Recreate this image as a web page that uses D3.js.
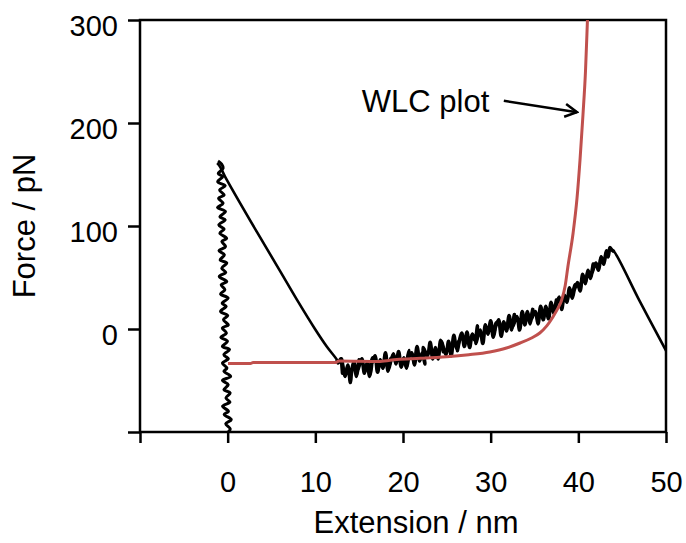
<!DOCTYPE html>
<html>
<head>
<meta charset="utf-8">
<script src="https://cdn.jsdelivr.net/npm/d3@7"></script>
<style>
  body { margin: 0; background: #fff; }
  text { font-family: "Liberation Sans", Arial, Helvetica, sans-serif; fill: #000; }
</style>
</head>
<body>
<div class="vis-fd"></div>
<script>
// tick values
const xTicks = [-10, 0, 10, 20, 30, 40, 50];
const yTicks = [-100, 0, 100, 200, 300];

// approach (contact) trace, nm / pN
const approachX = [0.05, 0.29, -0.22, 0.41, -0.4, 0.09, -0.58, 0.26, -0.2, 0.28,
    -0.43, 0.06, -0.6, 0.34, -0.43, -0.09, -0.6, 0.08, -0.43, 0.21,
    -0.6, -0.02, -0.78, -0.14, -0.61, 0.08, -0.48, 0.01, -0.81, -0.17,
    -0.63, 0.05, -0.81, -0.32, -0.74, -0.1, -0.96, -0.22, -0.68, -0.1,
    -0.86, -0.37, -0.99, -0.25, -0.66, -0.12, -0.89, -0.4, -1.01, -0.28,
    -0.89, -0.25, -1.16, -0.53, -1.04, -0.4, -0.92, -0.28, -1.14, -0.56,
    -1.07, -0.53, -0.69, -1.1];
const approachF = [-100, -97, -92, -88, -83, -80, -75, -71, -67, -62,
    -59, -54, -50, -46, -41, -38, -33, -29, -25, -20,
    -17, -12, -8, -4, 1, 4, 9, 13, 17, 22,
    25, 30, 34, 38, 43, 46, 51, 55, 59, 64,
    67, 72, 76, 80, 85, 88, 93, 97, 101, 106,
    109, 114, 118, 122, 127, 130, 135, 139, 143, 148,
    151, 156, 160, 163];

// retraction trace
const retractX = [-1.2, -0.9, -0.3, 3.35, 6, 8, 9.96, 11.3, 12.47,
    12.6, 12.9, 13.1, 13.0, 13.4, 13.7, 14.0, 14.1, 14.4, 14.7,
    15.0, 14.8, 15.3, 15.6, 15.9, 16.2, 16.5, 16.3, 16.8, 17.1,
    17.4, 17.7, 18.0, 18.3, 18.6, 18.4, 18.9, 19.2, 19.5, 19.8,
    20.1, 20.4, 20.7, 20.5, 21.0, 21.3, 21.6, 21.9, 22.2, 22.5,
    22.3, 22.8, 23.1, 23.4, 23.7, 24.0, 24.3, 24.6, 24.4, 24.9,
    25.2, 25.5, 25.8, 26.1, 26.4, 26.2, 26.7, 27.0, 27.3, 27.6,
    27.9, 28.2, 28.5, 28.3, 28.8, 29.1, 29.4, 29.7, 30.0, 30.3,
    30.6, 30.4, 30.9, 31.2, 31.5, 31.8, 32.1, 32.4, 32.7, 32.5,
    33.0, 33.3, 33.6, 33.9, 34.2, 34.5, 34.8, 34.6, 35.1, 35.4,
    35.7, 36.0, 36.3, 36.6, 36.9, 37.2, 37.5, 37.3, 37.8, 38.1,
    38.4, 38.7, 39.0, 39.3, 39.6, 39.4, 39.9, 40.2, 40.5, 40.8,
    41.1, 41.4, 41.7, 41.5, 42.0, 42.3, 42.6, 42.9, 43.2, 43.4,
    43.6, 43.8,
    44.1, 47.0, 50.0, 50.6];
const retractF = [161, 158, 148, 94, 56, 27, 0, -17, -30,
    -33, -29, -43, -29, -46, -35, -52, -44, -32, -46,
    -30, -41, -29, -43, -33, -46, -28, -37, -26, -42,
    -30, -38, -23, -41, -29, -38, -24, -34, -22, -37,
    -28, -38, -21, -30, -23, -35, -17, -31, -23, -34,
    -18, -26, -13, -29, -18, -29, -11, -22, -12, -25,
    -12, -26, -6, -19, -11, -21, -4, -17, -3, -18,
    -5, -11, 3, -14, -1, -14, 4, -5, 8, -8,
    6, -2, 9, -7, 7, -2, 13, -1, 14, 2,
    12, -1, 17, 4, 17, 5, 19, 9, 17, 5,
    22, 9, 22, 10, 26, 15, 28, 18, 31, 19,
    33, 26, 40, 30, 43, 35, 45, 37, 53, 44,
    57, 49, 63, 53, 64, 57, 70, 63, 76, 70,
    79, 77,
    75, 27, -21, -31];
// noisy stretch of the retraction (index range)
const noiseStart = 8, noiseEnd = 132;

// WLC fit
const wlcX = [0.04, 2.6, 2.9, 12.3, 12.7, 17.4, 19.3, 22, 25, 27.5, 29.9, 31.8, 33.35, 34.6,
    35.6, 36.4, 37.1, 37.6, 38.1, 38.5, 38.8, 39.4, 39.85, 40.19, 40.53, 40.82, 41.04, 41.3];
const wlcF = [-33.5, -33.5, -32.5, -32.5, -31, -31.5, -29.5, -28.5, -27, -25, -22.3, -18.5, -13.6, -9,
    -3.9, 3, 11.7, 19, 28.2, 42, 60, 93, 127, 164, 208, 251, 300, 360];

// annotation (data units)
const labelText = "WLC plot";
const labelPos = [15.3, 211];
const arrowFrom = [31.5, 221.5];
const arrowTo = [39.85, 210.5];

const margin = { top: 20, right: 20, bottom: 111, left: 140 };
const width = 686 - margin.left - margin.right;
const height = 543 - margin.top - margin.bottom;
const red = "#c0504d";

const svg = d3.select(".vis-fd")
    .append("svg")
    .attr("width", width + margin.left + margin.right)
    .attr("height", height + margin.top + margin.bottom)
    .append("g")
    .attr("transform", "translate(" + margin.left + "," + margin.top + ")");

const x = d3.scaleLinear().domain([-10, 50]).range([0, width]);
const y = d3.scaleLinear().domain([-100, 300]).range([height, 0]);

svg.append("defs").append("clipPath")
    .attr("id", "clip")
    .append("rect")
    .attr("width", width)
    .attr("height", height);

svg.append("defs").append("marker")
    .attr("id", "arrow")
    .attr("markerUnits", "userSpaceOnUse")
    .attr("viewBox", "-14 -8 16 16")
    .attr("markerWidth", 16)
    .attr("markerHeight", 16)
    .attr("orient", "auto")
    .append("path")
    .attr("d", "M-12,-6.5L0,0L-12,6.5")
    .attr("fill", "none")
    .attr("stroke", "#000")
    .attr("stroke-width", 2.5);

// Axis
const xAxis = svg.append("g")
    .attr("class", "x axis")
    .attr("transform", "translate(0," + height + ")")
    .call(d3.axisBottom(x).tickValues(xTicks).tickSize(11).tickSizeOuter(0).tickPadding(28)
        .tickFormat(d => d === -10 ? "" : d));
const yAxis = svg.append("g")
    .attr("class", "y axis")
    .call(d3.axisLeft(y).tickValues(yTicks).tickSize(12).tickSizeOuter(0).tickPadding(10)
        .tickFormat(d => d === -100 ? "" : d));

[xAxis, yAxis].forEach(g => {
    g.select(".domain").remove();
    g.selectAll("line").attr("stroke", "#000").attr("stroke-width", 2.5);
    g.selectAll("text").style("font-size", "29px").attr("fill", "#000");
});
yAxis.selectAll("text").attr("dy", "0.55em");

svg.append("rect")
    .attr("width", width)
    .attr("height", height)
    .attr("fill", "none")
    .attr("stroke", "#000")
    .attr("stroke-width", 2.5);

// Traces
const trace = d3.line().x(d => x(d[0])).y(d => y(d[1])).curve(d3.curveCatmullRom.alpha(0.5));
const fit = d3.line().x(d => x(d[0])).y(d => y(d[1])).curve(d3.curveMonotoneX);
const plot = svg.append("g").attr("clip-path", "url(#clip)");
const retract = d3.zip(retractX, retractF);

plot.append("path")
    .datum(d3.zip(approachX, approachF))
    .attr("d", trace)
    .attr("fill", "none")
    .attr("stroke", "#000")
    .attr("stroke-width", 3)
    .attr("stroke-linejoin", "round");

plot.append("path")
    .datum(retract)
    .attr("d", trace)
    .attr("fill", "none")
    .attr("stroke", "#000")
    .attr("stroke-width", 2.6)
    .attr("stroke-linejoin", "round");

plot.append("path")
    .datum(retract.slice(noiseStart, noiseEnd))
    .attr("d", trace)
    .attr("fill", "none")
    .attr("stroke", "#000")
    .attr("stroke-width", 3.6)
    .attr("stroke-linejoin", "round");

plot.append("path")
    .datum(d3.zip(wlcX, wlcF))
    .attr("d", fit)
    .attr("fill", "none")
    .attr("stroke", red)
    .attr("stroke-width", 3);

// Annotation
svg.append("text")
    .attr("x", x(labelPos[0]))
    .attr("y", y(labelPos[1]))
    .style("font-size", "31px")
    .text(labelText);

svg.append("line")
    .attr("x1", x(arrowFrom[0]))
    .attr("y1", y(arrowFrom[1]))
    .attr("x2", x(arrowTo[0]))
    .attr("y2", y(arrowTo[1]))
    .attr("stroke", "#000")
    .attr("stroke-width", 2.5)
    .attr("marker-end", "url(#arrow)");

// Axis titles
svg.append("text")
    .attr("x", 276)
    .attr("y", height + 101)
    .attr("text-anchor", "middle")
    .style("font-size", "31px")
    .text("Extension / nm");

svg.append("text")
    .attr("transform", "translate(-105," + (height / 2) + ")rotate(-90)")
    .attr("text-anchor", "middle")
    .style("font-size", "31px")
    .text("Force / pN");
</script>
</body>
</html>
